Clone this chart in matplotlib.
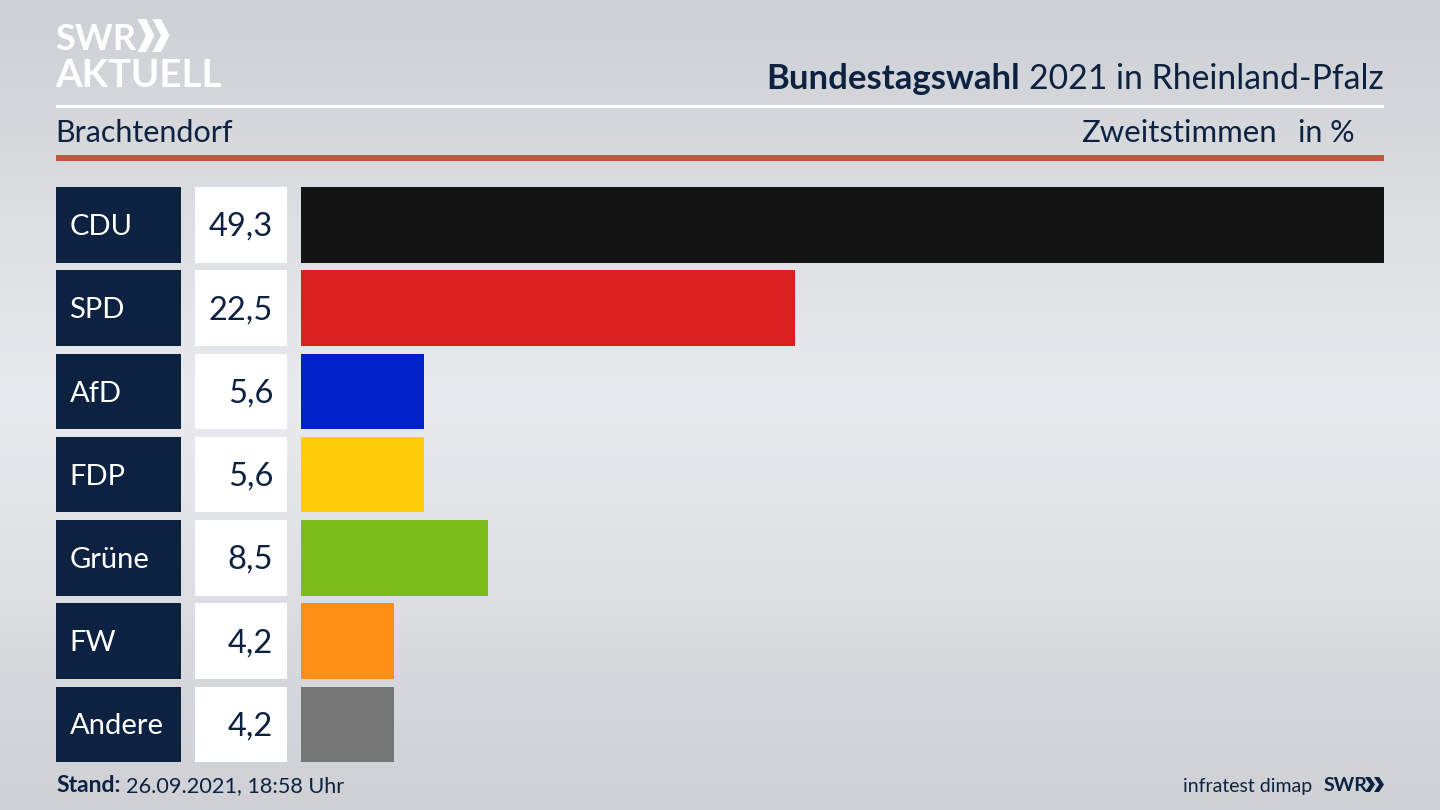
import numpy as np
import matplotlib
matplotlib.use("Agg")
import matplotlib.pyplot as plt
from matplotlib.patches import Polygon, Rectangle

parties = ["CDU", "SPD", "AfD", "FDP", "Grüne", "FW", "Andere"]
values = [49.3, 22.5, 5.6, 5.6, 8.5, 4.2, 4.2]
labels = ["49,3", "22,5", "5,6", "5,6", "8,5", "4,2", "4,2"]
colors = ["#141414", "#d9201f", "#0020c8", "#ffcd08", "#7abd19", "#ff8e14", "#757575"]

NAVY = "#0d2140"
FONT = "Lato"
W, H = 1440, 810
fig = plt.figure(figsize=(W / 100, H / 100), dpi=100)

# Full-figure canvas in pixel coordinates
bg = fig.add_axes([0, 0, 1, 1])
bg.set_xlim(0, W)
bg.set_ylim(H, 0)
bg.axis("off")

stops_y = [0, 100, 250, 400, 550, 700, 810]
stops_v = [[0.805, 0.815, 0.835], [0.83, 0.84, 0.855], [0.875, 0.88, 0.895],
           [0.915, 0.918, 0.935], [0.88, 0.885, 0.90], [0.83, 0.84, 0.855], [0.81, 0.82, 0.835]]
rows = np.arange(H)
grad = np.stack([np.interp(rows, stops_y, [s[i] for s in stops_v]) for i in range(3)], axis=1)[:, None, :]
bg.imshow(grad, extent=[0, W, H, 0], aspect="auto", zorder=0)


def txt(x, y, s, size, ha="left", color=NAVY, weight="normal", family=FONT):
    return bg.text(x, y, s, fontsize=size, ha=ha, va="baseline", color=color,
                   weight=weight, family=family, zorder=5)


def chevrons(x, top, h, w, gap, color):
    for k in range(2):
        x0 = x + k * gap
        bg.add_patch(Polygon([(x0, top), (x0 + w * 0.5, top), (x0 + w, top + h / 2),
                              (x0 + w * 0.5, top + h), (x0, top + h), (x0 + w * 0.5, top + h / 2)],
                             closed=True, color=color, lw=0, zorder=5))


# Logo
txt(55, 50, "SWR", 26, color="white", weight="bold")
chevrons(137.5, 19, 33, 17, 15, "white")
txt(55, 87, "AKTUELL", 27.6, color="white", weight="bold")

# Header
bg.add_patch(Rectangle((56, 104.5), 1328, 3, color="white", lw=0, zorder=3))
bg.add_patch(Rectangle((56, 155), 1328, 5.5, color="#c9523f", lw=0, zorder=3))
txt(1384, 89, "2021 in Rheinland-Pfalz", 24.3, ha="right")
txt(1020, 89, "Bundestagswahl", 25, ha="right", weight="bold")
txt(55, 142, "Brachtendorf", 22)
txt(1277, 142, "Zweitstimmen", 22.4, ha="right")
txt(1355, 142, "in %", 22, ha="right")

# Footer
txt(56, 792, "Stand:", 16.5, weight="bold")
txt(126, 792, "26.09.2021, 18:58 Uhr", 15.6)
txt(1312, 792, "infratest dimap", 14, ha="right")
txt(1324, 791, "SWR", 14, weight="bold")
chevrons(1365, 777, 15, 10, 9, NAVY)

# Value bars
ROW0, ROWH, PITCH = 187, 75.5, 83.25
n = len(parties)
top_px, bot_px = ROW0, ROW0 + PITCH * (n - 1) + ROWH
LEFT = 301.3
ax = fig.add_axes([LEFT / W, 1 - bot_px / H, (1384 - LEFT) / W, (bot_px - top_px) / H])
ax.patch.set_alpha(0)
y = np.arange(n)
pad = (1 - ROWH / PITCH) / 2
ax.barh(y, values, height=ROWH / PITCH, color=colors, linewidth=0)
ax.set_xlim(0, 49.3)
ax.set_ylim(n - 1 + 0.5 - pad, -0.5 + pad)
ax.axis("off")

# Party and value boxes
for i, (p, lab) in enumerate(zip(parties, labels)):
    yy = ROW0 + i * PITCH
    bg.add_patch(Rectangle((56, yy), 125, ROWH, color=NAVY, lw=0, zorder=3))
    bg.add_patch(Rectangle((195, yy), 92, ROWH, color="white", lw=0, zorder=3))
    txt(69.5, yy + 48, p, 21, color="white")
    txt(273, yy + 49, lab, 23.5, ha="right")

fig.savefig("out.png", dpi=100)
